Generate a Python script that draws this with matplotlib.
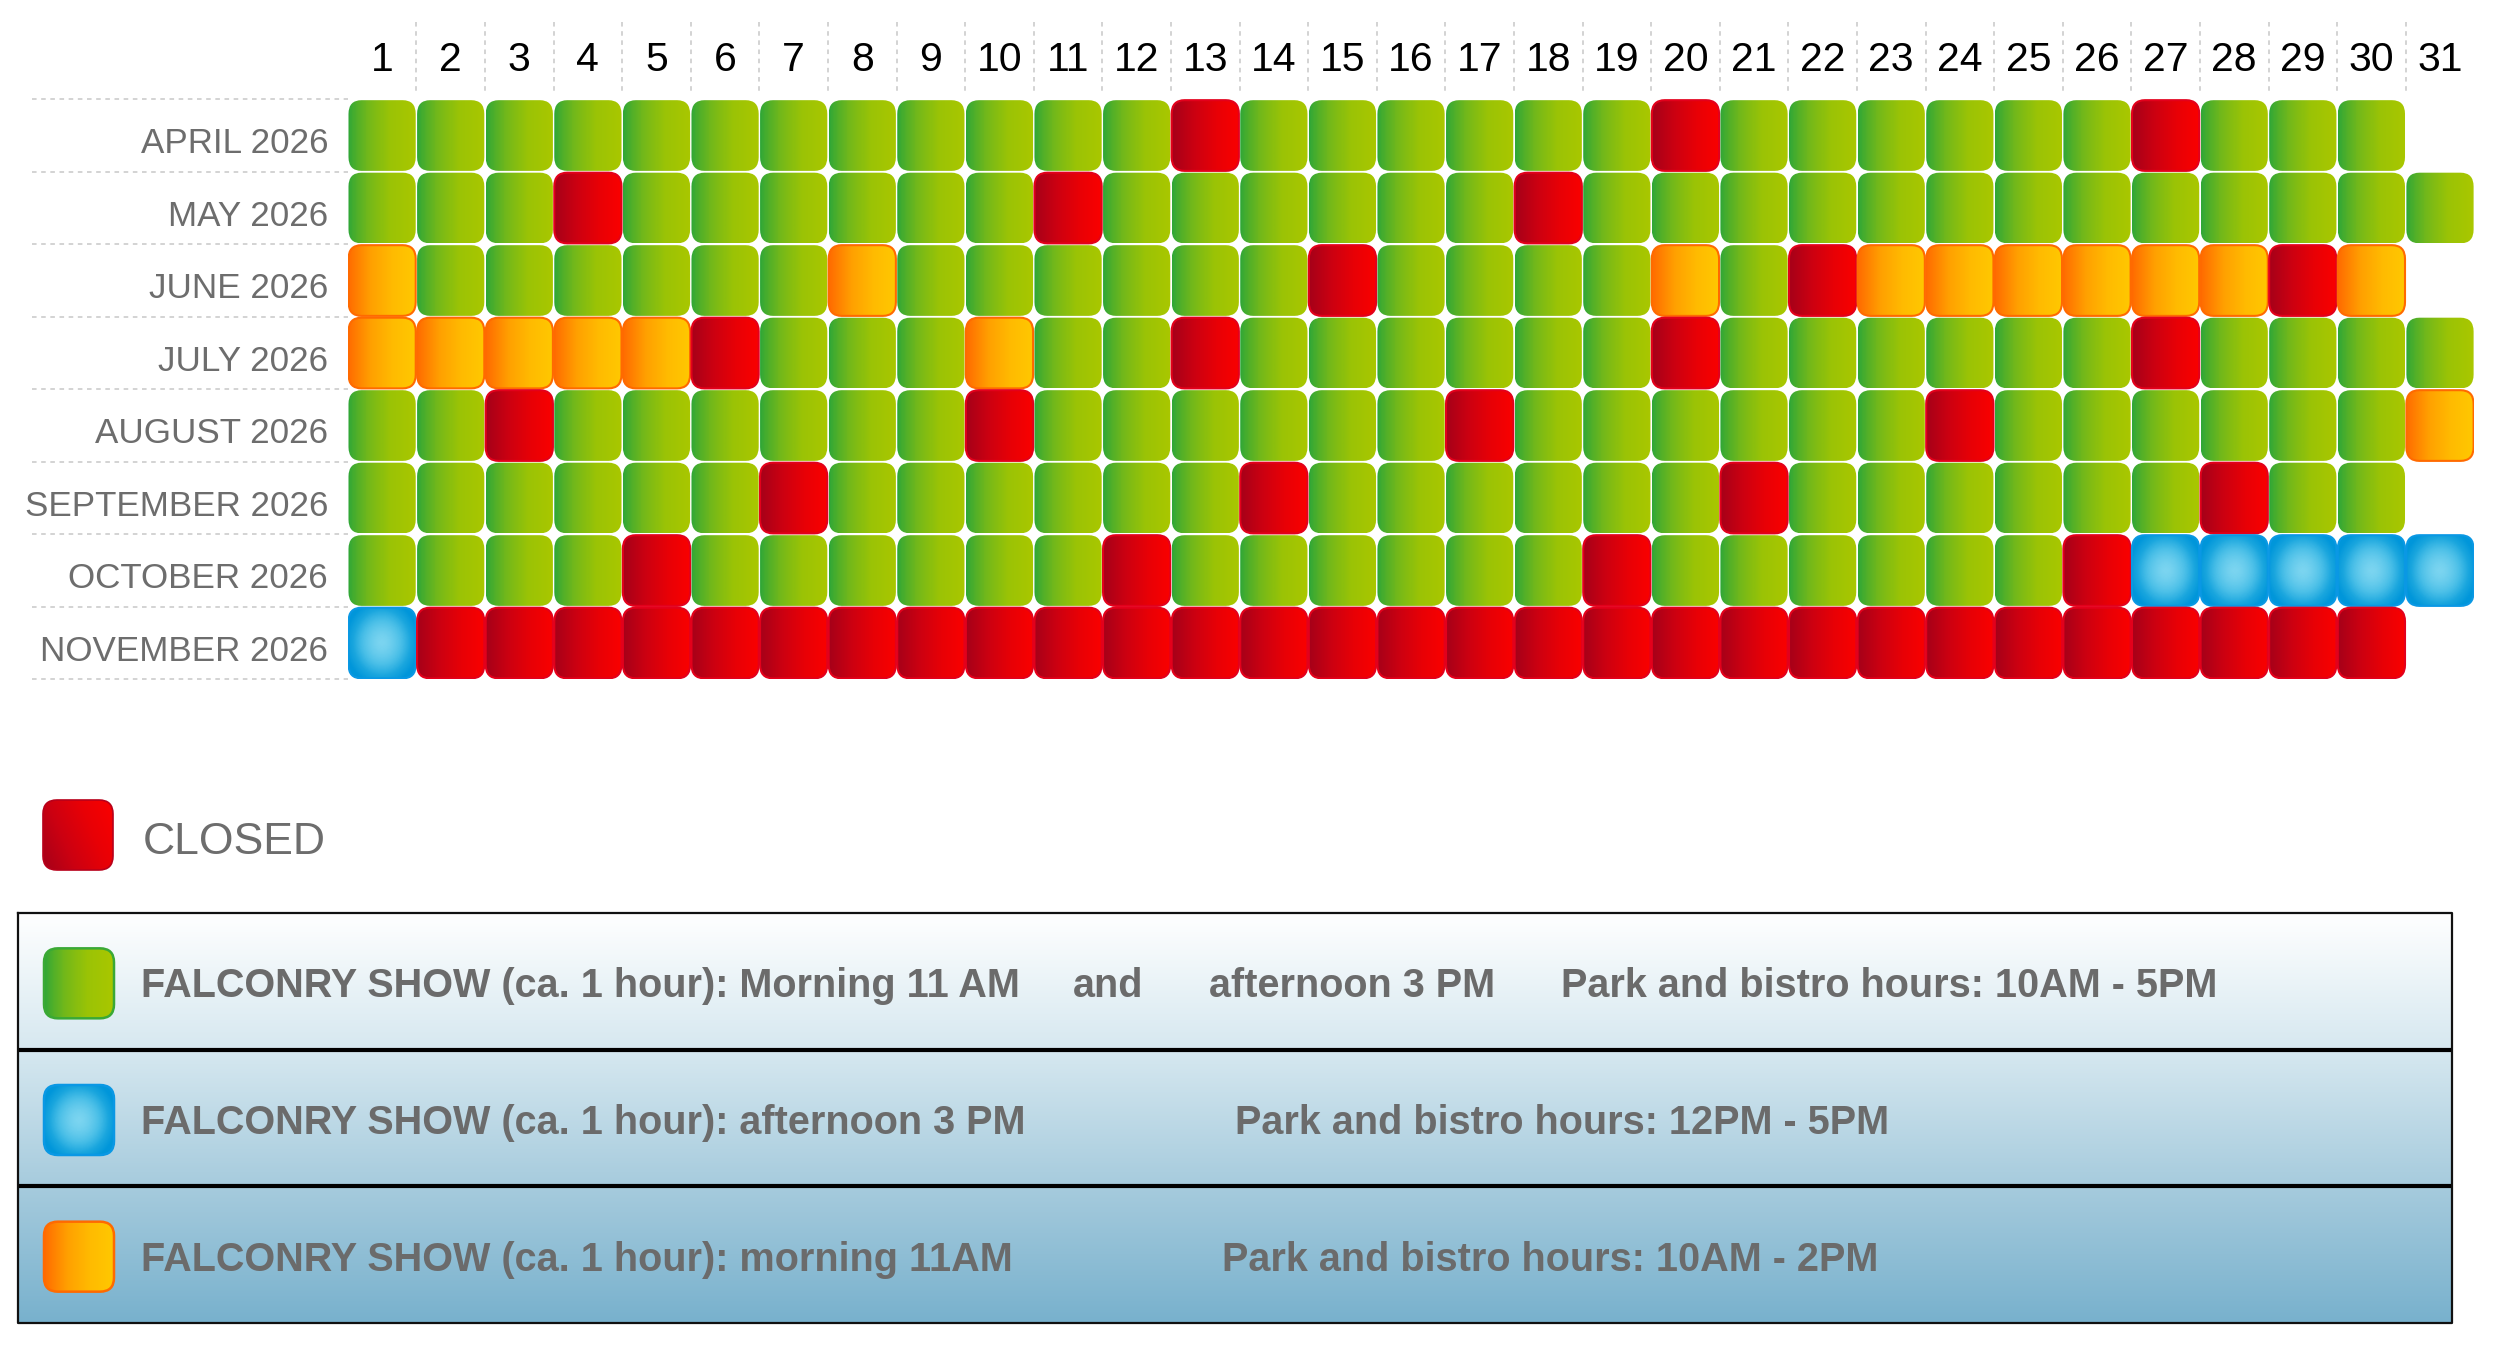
import numpy as np
import matplotlib
matplotlib.use('Agg')
import matplotlib.pyplot as plt
from matplotlib.patches import FancyBboxPatch
from matplotlib.colors import LinearSegmentedColormap

plt.rcParams['font.family'] = ['Liberation Sans', 'DejaVu Sans']

# calendar data: G = morning + afternoon show, B = afternoon only,
# O = morning only, R = closed
months = ['APRIL 2026', 'MAY 2026', 'JUNE 2026', 'JULY 2026', 'AUGUST 2026',
          'SEPTEMBER 2026', 'OCTOBER 2026', 'NOVEMBER 2026']
day_status = [
    'GGGGGGGGGGGGRGGGGGGRGGGGGGRGGG',
    'GGGRGGGGGGRGGGGGGRGGGGGGGGGGGGG',
    'OGGGGGGOGGGGGGRGGGGOGROOOOOORO',
    'OOOOORGGGOGGRGGGGGGRGGGGGGRGGGG',
    'GGRGGGGGGRGGGGGGRGGGGGGRGGGGGGO',
    'GGGGGGRGGGGGGRGGGGGGRGGGGGGRGG',
    'GGGGRGGGGGGRGGGGGGRGGGGGGRBBBBB',
    'BRRRRRRRRRRRRRRRRRRRRRRRRRRRRR',
]
day_numbers = list(range(1, 32))

closed_label = 'CLOSED'
show_texts = ['FALCONRY SHOW (ca. 1 hour): Morning 11 AM',
              'FALCONRY SHOW (ca. 1 hour): afternoon 3 PM',
              'FALCONRY SHOW (ca. 1 hour): morning 11AM']
extra_texts = ['and', 'afternoon 3 PM']
hours_texts = ['Park and bistro hours: 10AM - 5PM',
               'Park and bistro hours: 12PM - 5PM',
               'Park and bistro hours: 10AM - 2PM']
legend_kinds = ['G', 'B', 'O']

# colour ramps
cmaps = {
    'G': LinearSegmentedColormap.from_list('g', ['#30a737', '#6fb71c', '#9ac306', '#a9c700'], 64),
    'R': LinearSegmentedColormap.from_list('r', ['#a60019', '#cc0011', '#e80006', '#fa0000'], 64),
    'O': LinearSegmentedColormap.from_list('o', ['#ff6c00', '#ffa000', '#ffbb00', '#ffc800'], 64),
    'B': LinearSegmentedColormap.from_list('b', ['#7ad4f0', '#4cc0e8', '#1aa6de', '#0096da'], 64),
}
edges = {'G': None, 'R': '#e3001b', 'O': '#ff6a00', 'B': '#0a98e4'}


def grad_image(kind, diag=False):
    t = np.linspace(0, 1, 64)
    if kind == 'B':
        yy, xx = np.mgrid[-1:1:64j, -1:1:64j]
        r = np.clip(np.sqrt(xx ** 2 + (yy * 0.9) ** 2) / 1.1, 0, 1) ** 1.6
        return cmaps['B'](r)
    if diag:
        yy, xx = np.mgrid[0:1:64j, 0:1:64j]
        return cmaps[kind](np.clip(xx * 0.7 + (1 - yy) * 0.3, 0, 1))
    if kind == 'G':
        t = t ** 0.85
    return cmaps[kind](t[None, :])


def cell(ax, x0, y0, w, h, kind, rnd, lw=1.5, diag=False, edge=None):
    patch = FancyBboxPatch((x0, y0), w, h,
                           boxstyle=f'round,pad=0,rounding_size={rnd}',
                           transform=ax.transData, facecolor='none',
                           edgecolor='none')
    ax.add_patch(patch)
    im = ax.imshow(grad_image(kind, diag), extent=(x0, x0 + w, y0 + h, y0),
                   aspect='auto', interpolation='bilinear', zorder=2)
    im.set_clip_path(patch)
    ec = edge if edge is not None else edges[kind]
    if ec is not None:
        ax.add_patch(FancyBboxPatch((x0, y0), w, h,
                                    boxstyle=f'round,pad=0,rounding_size={rnd}',
                                    facecolor='none', edgecolor=ec, lw=lw,
                                    zorder=3))


W, H = 2495, 1347
fig = plt.figure(figsize=(W / 100, H / 100), dpi=100)

# full-figure axes in pixel units for the legend part
lax = fig.add_axes([0, 0, 1, 1])
lax.set_xlim(0, W)
lax.set_ylim(H, 0)
lax.axis('off')

# calendar axes: one unit per day / month
cax = fig.add_axes([0.1394, 0.4957, 0.8523, 0.4306])
cax.axis('off')

cw, ch = 0.98, 0.975
for r, status in enumerate(day_status):
    for d, kind in enumerate(status, start=1):
        cell(cax, d - cw / 2, r - ch / 2, cw, ch, kind, 0.19)

for d in day_numbers:
    cax.text(d, -0.885, str(d), ha='center', va='baseline', fontsize=29.5,
             color='black', clip_on=False)
for r, m in enumerate(months):
    cax.text(0.213, r + 0.245, m, ha='right', va='baseline', fontsize=25.2,
             color='#6d6d6d', clip_on=False)

cax.vlines(np.array(day_numbers[:-1]) + 0.5, -1.57, -0.585, colors='#c8c8c8',
           linestyles=(0, (3, 3)), lw=1.1, clip_on=False)
cax.hlines(np.arange(len(months) + 1) - 0.5, -4.1, 0.5, colors='#c8c8c8',
           linestyles=(0, (3, 3)), lw=1.1, clip_on=False)
cax.set_xlim(0.5, 31.5)
cax.set_ylim(len(months) - 0.5, -0.5)

# closed legend entry
cell(lax, 43, 800, 70, 70, 'R', 14, lw=1.2, diag=True, edge='#b8001a')
lax.text(143, 854, closed_label, fontsize=32, color='#6d6d6d', va='baseline')

# legend box with vertical gradient
bx0, bx1, by0, by1 = 18, 2452, 913, 1323
grad = np.linspace(0, 1, 256)[:, None]
box_cmap = LinearSegmentedColormap.from_list('box', ['#ffffff', '#d6e8f0', '#a6cbdd', '#78b1cd'])
lax.imshow(box_cmap(grad), extent=(bx0, bx1, by1, by0), aspect='auto',
           interpolation='bilinear', zorder=1)
lax.plot([bx0, bx1, bx1, bx0, bx0], [by0, by0, by1, by1, by0], color='#111111',
         lw=1.6, zorder=4)
sec = (by1 - by0) / 3
for i in (1, 2):
    lax.plot([bx0 + 3, bx1 - 3], [by0 + i * sec, by0 + i * sec], color='black',
             lw=3, zorder=4)

hours_x = [1561, 1235, 1222]
for i, kind in enumerate(legend_kinds):
    cy = by0 + (i + 0.5) * sec + 2
    cell(lax, 44, cy - 35, 70, 70, kind, 14, lw=1.8,
         edge={'G': '#3aa935', 'B': '#0a98e4', 'O': '#ff6a00'}[kind])
    base = cy + 14
    lax.text(141, base, show_texts[i], fontsize=28.5, fontweight='bold',
             color='#6b6b6b', va='baseline', zorder=5)
    lax.text(hours_x[i], base, hours_texts[i], fontsize=28.5,
             fontweight='bold', color='#6b6b6b', va='baseline', zorder=5)
    if i == 0:
        lax.text(1073, base, extra_texts[0], fontsize=28.5, fontweight='bold',
                 color='#6b6b6b', va='baseline', zorder=5)
        lax.text(1209, base, extra_texts[1], fontsize=28.5, fontweight='bold',
                 color='#6b6b6b', va='baseline', zorder=5)

lax.set_xlim(0, W)
lax.set_ylim(H, 0)

fig.savefig('out.png', dpi=100)
